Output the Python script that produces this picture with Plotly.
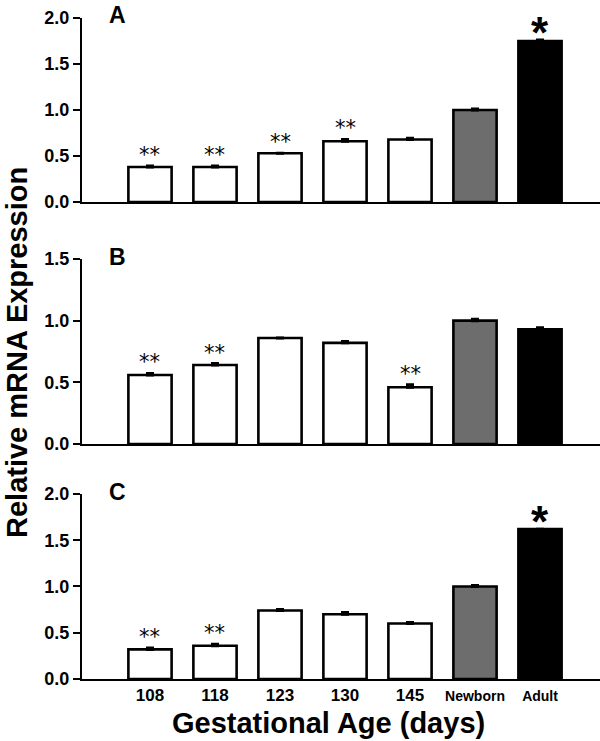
import plotly.graph_objects as go

categories = ["108", "118", "123", "130", "145", "Newborn", "Adult"]
tick_text = ["108", "118", "123", "130", "145",
             "<span style='font-size:14px'>Newborn</span>",
             "<span style='font-size:14px'>Adult</span>"]

panel_a = [0.38, 0.38, 0.53, 0.66, 0.68, 1.00, 1.75]
panel_a_err = [0.012, 0.012, 0.0, 0.02, 0.012, 0.012, 0.012]
panel_a_marks = ["**", "**", "**", "**", "", "", "*"]

panel_b = [0.56, 0.64, 0.86, 0.82, 0.46, 1.00, 0.93]
panel_b_err = [0.012, 0.012, 0.0, 0.012, 0.02, 0.012, 0.012]
panel_b_marks = ["**", "**", "", "", "**", "", ""]

panel_c = [0.32, 0.36, 0.74, 0.70, 0.60, 1.00, 1.62]
panel_c_err = [0.015, 0.015, 0.012, 0.02, 0.012, 0.012, 0.0]
panel_c_marks = ["**", "**", "", "", "", "", "*"]

panel_labels = ["A", "B", "C"]
y_max = [2.0, 1.5, 2.0]

fills = ["white", "white", "white", "white", "white", "#6d6d6d", "black"]

FONT = "Liberation Sans, Arial, Helvetica, sans-serif"
xpos = list(range(1, len(categories) + 1))
xrange_ = [-0.046, 7.923]

panels = [(panel_a, panel_a_err, panel_a_marks),
          (panel_b, panel_b_err, panel_b_marks),
          (panel_c, panel_c_err, panel_c_marks)]
domains = [[0.7216, 1.0], [0.3555, 0.6354], [0.0, 0.2799]]
letter_y = [1.0045, 0.6384, 0.2829]

fig = go.Figure()
annotations = []
for i, (vals, errs, marks) in enumerate(panels):
    n = "" if i == 0 else str(i + 1)
    fig.add_trace(go.Bar(
        x=xpos, y=vals, width=0.665,
        marker=dict(color=fills, line=dict(color="black", width=2.6)),
        error_y=dict(type="data", array=errs, visible=True, color="black",
                     thickness=3, width=4, symmetric=False, arrayminus=[0] * 7),
        xaxis="x" + n, yaxis="y" + n, showlegend=False,
    ))
    for xv, v, e, m in zip(xpos, vals, errs, marks):
        if not m:
            continue
        if m == "*":
            annotations.append(dict(x=xv, y=v + e, xref="x" + n, yref="y" + n,
                                    text="<b>*</b>", showarrow=False, yanchor="bottom",
                                    yshift=-19, font=dict(family=FONT, size=44, color="black")))
        else:
            annotations.append(dict(x=xv, y=v + e, xref="x" + n, yref="y" + n,
                                    text="**", showarrow=False, yanchor="bottom",
                                    yshift=-3, font=dict(family="DejaVu Sans", size=21, color="black")))
    annotations.append(dict(x=0.0676, y=letter_y[i], xref="paper", yref="paper",
                            text="<b>%s</b>" % panel_labels[i], showarrow=False,
                            yanchor="middle", xanchor="center",
                            font=dict(family=FONT, size=23, color="black")))

    fig.layout["xaxis" + n] = dict(
        range=xrange_, anchor="y" + n, showline=True, linecolor="black", linewidth=2,
        showgrid=False, zeroline=False, ticks="",
        tickvals=xpos, ticktext=tick_text if i == 2 else [""] * 7,
        showticklabels=(i == 2),
        tickfont=dict(family=FONT, size=17, color="black", weight="bold"),
    )
    fig.layout["yaxis" + n] = dict(
        range=[0, y_max[i]], domain=domains[i], anchor="x" + n,
        showline=True, linecolor="black", linewidth=2, showgrid=False, zeroline=False,
        ticks="outside", ticklen=7, tickwidth=2, tickcolor="black",
        tickvals=[v * 0.5 for v in range(int(y_max[i] / 0.5) + 1)], tickformat=".1f",
        tickfont=dict(family=FONT, size=18, color="black", weight="bold"),
    )

annotations.append(dict(x=-0.1255, y=0.4947, xref="paper", yref="paper",
                        text="<b>Relative mRNA Expression</b>", textangle=-90,
                        showarrow=False, xanchor="center", yanchor="middle",
                        font=dict(family=FONT, size=29, color="black")))
annotations.append(dict(x=0.475, y=-0.066, xref="paper", yref="paper",
                        text="<b>Gestational Age (days)</b>",
                        showarrow=False, xanchor="center", yanchor="middle",
                        font=dict(family=FONT, size=29, color="black")))

fig.update_layout(
    width=600, height=741,
    margin=dict(l=82, r=0, t=18, b=62),
    paper_bgcolor="white", plot_bgcolor="white",
    annotations=annotations, bargap=0.3,
)

fig.write_html("out.html", config={"displayModeBar": False},
               post_script="document.body.style.margin='0px';document.body.style.overflow='hidden';")
